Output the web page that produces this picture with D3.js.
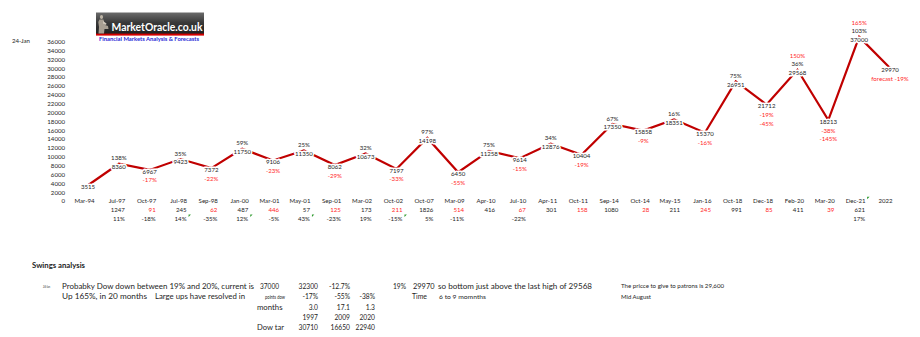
<!DOCTYPE html>
<html>
<head>
<meta charset="utf-8">
<script src="https://cdn.jsdelivr.net/npm/d3@7"></script>
<style>
  html,body{margin:0;padding:0;background:#fff;}
  svg{display:block;}
  text{font-family:Lato,"Open Sans",sans-serif;}
</style>
</head>
<body>
<svg id="chart" width="920" height="337"></svg>
<script>
// ---------------- DATA ----------------
const categories = ["Mar-94","Jul-97","Oct-97","Jul-98","Sep-98","Jan-00","Mar-01","May-01","Sep-01","Mar-02","Oct-02","Oct-07","Mar-09","Apr-10","Jul-10","Apr-11","Oct-11","Sep-14","Oct-14","May-15","Jan-16","Oct-18","Dec-18","Feb-20","Mar-20","Dec-21","2022"];
const values = [3515,8360,6967,9423,7372,11750,9106,11350,8062,10673,7197,14198,6450,11258,9614,12876,10404,17350,15858,18351,15370,26951,21712,29568,18213,37000,29970];
const swingPct = ["","138%","-17%","35%","-22%","59%","-23%","25%","-29%","32%","-33%","97%","-55%","75%","-15%","34%","-19%","67%","-9%","16%","-16%","75%","-19%","36%","-38%","103%","forecast -19%"];
const extraPct = ["","","","","","","","","","","","","","","","","","","","","","","-45%","150%","-145%","165%",""];
const swingDays = ["","1247","91","245","62","487","446","57","125","173","211","1826","514","416","67","301","158","1080","28","211","245","991","85","411","39","621",""];
const rowPct = ["","11%","-18%","14%","-35%","12%","-5%","43%","-23%","19%","-15%","5%","-11%","","-22%","","","","","","","","","","","17%",""];
const yTicks = [0,2000,4000,6000,8000,10000,12000,14000,16000,18000,20000,22000,24000,26000,28000,30000,32000,34000,36000];
const flaggedPct = ["Jul-98","Jan-00","May-01","Oct-02"];
const flaggedCat = ["Dec-21"];

// bottom "swings analysis" sheet text
const swingsTitle = "Swings analysis";
const noteDate = "24-Jan";
const noteLine1 = "Probabky Dow down between 19% and 20%, current is";
const noteLine2a = "Up 165%, in 20 months";
const noteLine2b = "Large ups have resolved in";
const rowLabels = ["points dow","months","","Dow tar"];
const colCurrent = ["37000","32300","-12.7%"];
const colPoints = ["-17%","-55%","-38%"];
const colMonths = ["3.0","17.1","1.3"];
const colYears = ["1997","2009","2020"];
const colTargets = ["30710","16650","22940"];
const forecastPct = "19%";
const forecastVal = "29970";
const forecastNote = "so bottom just above the last high of 29568";
const timeLabel = "Time";
const timeNote = "6 to 9 momnths";
const patronNote = "The pricce to give to patrons is 29,600";
const patronWhen = "Mid August";

// ---------------- DRAW ----------------
const svg = d3.select("#chart");
const RED = "#ff1f1f", LINE = "#c00000", INK = "#1e1e1e";
const FS = 6.1;

const x = d3.scalePoint().domain(categories).range([88, 890]);
const y = d3.scaleLinear().domain([0, 36000]).range([200.8, 41.3]);
const rowH = y(0) - y(2000);

// top-left date
svg.append("text").attr("x", 12).attr("y", y(36000)).attr("dy", "0.35em")
  .attr("font-size", FS).attr("fill", INK).text(noteDate);

// y axis (labels only)
const yAxis = svg.append("g").attr("transform", "translate(65,0)")
  .call(d3.axisLeft(y).tickValues(yTicks).tickSize(0).tickPadding(0).tickFormat(d3.format("d")));
yAxis.select(".domain").remove();
yAxis.selectAll("text").attr("font-family", "Lato").attr("font-size", FS).attr("fill", INK).attr("dy", "0.35em");

// category axis (labels only, right aligned like sheet cells)
const xAxis = svg.append("g").attr("transform", `translate(0,${y(0)})`)
  .call(d3.axisBottom(x).tickSize(0).tickPadding(0));
xAxis.select(".domain").remove();
xAxis.selectAll("text").attr("font-family", "Lato").attr("font-size", FS).attr("fill", INK)
  .attr("y", 0).attr("dy", "0.35em").attr("x", 6).style("text-anchor", "end");
xAxis.selectAll("text").filter(d => d === categories[categories.length - 1])
  .style("text-anchor", "start").attr("x", -12);

// line
const line = d3.line().x((d, i) => x(categories[i])).y(d => y(d));
svg.append("path").datum(values).attr("d", line)
  .attr("fill", "none").attr("stroke", LINE).attr("stroke-width", 2.2).attr("stroke-linejoin", "miter");

// point labels
const isPeak = i => i > 0 && values[i] > values[i - 1];
const lbl = svg.append("g").attr("font-size", FS).attr("text-anchor", "middle");
function halo(sel) {
  return sel.attr("stroke", "#fff").attr("stroke-width", 3).attr("paint-order", "stroke").attr("stroke-linejoin", "round");
}
values.forEach((v, i) => {
  const cx = x(categories[i]);
  const peak = isPeak(i);
  const base = peak ? y(v) + 3.3 : y(v) + 1.5;
  halo(lbl.append("text")).attr("x", cx).attr("y", base).attr("dy", "0.35em").attr("fill", INK).text(v);
  if (swingPct[i]) {
    const red = !peak || i === values.length - 1;
    halo(lbl.append("text")).attr("x", cx).attr("y", peak ? base - rowH : base + rowH)
      .attr("dy", "0.35em").attr("fill", red ? RED : INK).text(swingPct[i]);
  }
  if (extraPct[i]) {
    halo(lbl.append("text")).attr("x", cx).attr("y", peak ? base - 2 * rowH : base + 2 * rowH)
      .attr("dy", "0.35em").attr("fill", RED).text(extraPct[i]);
  }
});

// sheet rows under the categories
const rows = svg.append("g").attr("font-size", FS).attr("text-anchor", "end");
categories.forEach((c, i) => {
  const cx = x(c) + 6;
  if (swingDays[i]) rows.append("text").attr("x", cx).attr("y", y(0) + rowH).attr("dy", "0.35em")
    .attr("fill", isPeak(i) ? INK : RED).text(swingDays[i]);
  if (rowPct[i]) rows.append("text").attr("x", cx).attr("y", y(0) + 2 * rowH).attr("dy", "0.35em")
    .attr("fill", INK).text(rowPct[i]);
});
// excel error indicator marks
function flag(px, py) {
  svg.append("path").attr("d", `M${px},${py}L${px + 2.4},${py}L${px},${py + 2.4}Z`).attr("fill", "#2e9a2e");
}
flaggedPct.forEach(c => flag(x(c) + 8, y(0) + 2 * rowH - 4));
flaggedCat.forEach(c => flag(x(c) + 8, y(0) - 4));

// ---------------- LOGO ----------------
const defs = svg.append("defs");
const grad = defs.append("linearGradient").attr("id", "lg").attr("x1", 0).attr("y1", 0).attr("x2", 0).attr("y2", 1);
grad.append("stop").attr("offset", "0%").attr("stop-color", "#6b6b6b");
grad.append("stop").attr("offset", "45%").attr("stop-color", "#3a3a3a");
grad.append("stop").attr("offset", "100%").attr("stop-color", "#1e1e1e");
const logo = svg.append("g");
logo.append("rect").attr("x", 96).attr("y", 12.5).attr("width", 108).attr("height", 22).attr("fill", "url(#lg)");
logo.append("rect").attr("x", 96).attr("y", 33.6).attr("width", 108).attr("height", 2).attr("fill", "#d40000");
logo.append("ellipse").attr("cx", 101.5).attr("cy", 17).attr("rx", 1.6).attr("ry", 1.9).attr("fill", "#bdb4a6");
logo.append("path").attr("d", "M99.5,19.5 L103.5,19.5 L105,25 L108,26 L108.5,29 L104.5,29 L104,33.5 L98.5,33.5 L99,27 L98.3,22 Z").attr("fill", "#a89f92");
logo.append("path").attr("d", "M103,21 L106.5,23.5 L106,25 L103,23.5 Z").attr("fill", "#cfc7ba");
logo.append("text").attr("x", 111.5).attr("y", 31).attr("font-family", "Liberation Sans, Arial, sans-serif")
  .attr("font-weight", "bold").attr("font-size", 11).attr("fill", "#fff")
  .attr("textLength", 91).attr("lengthAdjust", "spacingAndGlyphs").text("MarketOracle.co.uk");
logo.append("text").attr("x", 99).attr("y", 40.6).attr("font-family", "Liberation Sans, Arial, sans-serif")
  .attr("font-weight", "bold").attr("font-size", 4.8).attr("fill", "#1f1fd6")
  .attr("textLength", 100).attr("lengthAdjust", "spacingAndGlyphs").text("Financial Markets Analysis & Forecasts");

// ---------------- SWINGS ANALYSIS ----------------
const B = svg.append("g").attr("fill", INK);
const FB = 6.7, FSM = 4.8;
const r0 = 286.5, rs = 10.4;
const colEnds = [318, 350, 375];
function t(str, px, py, opts = {}) {
  const el = B.append("text").attr("x", px).attr("y", py).attr("dy", "0.35em")
    .attr("font-size", opts.fs || FB).text(str);
  if (opts.anchor) el.attr("text-anchor", opts.anchor);
  if (opts.bold) el.attr("font-weight", "bold");
  if (opts.len) el.attr("textLength", opts.len).attr("lengthAdjust", "spacingAndGlyphs");
  return el;
}
t(swingsTitle, 32, 265.5, {bold: true, fs: 7, len: 53});
t(noteDate, 43, r0, {fs: 4.2, len: 7});
t(noteLine1, 62, r0, {fs: 7.3, len: 192});
t(colCurrent[0], 260, r0, {len: 19});
t(colCurrent[1], colEnds[0], r0, {anchor: "end"});
t(colCurrent[2], colEnds[1], r0, {anchor: "end"});
t(forecastPct, 406, r0, {anchor: "end"});
t(forecastVal, 413, r0, {len: 21.5});
t(forecastNote, 438, r0, {fs: 7.3, len: 154});
t(patronNote, 621, r0, {fs: 5.2, len: 103});

t(noteLine2a, 62, r0 + rs, {fs: 7.3, len: 85});
t(noteLine2b, 155, r0 + rs, {fs: 7.3, len: 90});
t(rowLabels[0], 265, r0 + rs, {fs: FSM, len: 20});
colPoints.forEach((s, k) => t(s, colEnds[k], r0 + rs, {anchor: "end"}));
t(timeLabel, 412, r0 + rs, {len: 15});
t(timeNote, 439, r0 + rs, {fs: FSM, len: 47});
t(patronWhen, 621, r0 + rs, {fs: 5.2, len: 30});

t(rowLabels[1], 257, r0 + 2 * rs, {len: 25.5});
colMonths.forEach((s, k) => t(s, colEnds[k], r0 + 2 * rs, {anchor: "end"}));
colYears.forEach((s, k) => t(s, colEnds[k], r0 + 3 * rs, {anchor: "end"}));
t(rowLabels[3], 257, r0 + 4 * rs, {len: 27});
colTargets.forEach((s, k) => t(s, colEnds[k], r0 + 4 * rs, {anchor: "end"}));
</script>
</body>
</html>
